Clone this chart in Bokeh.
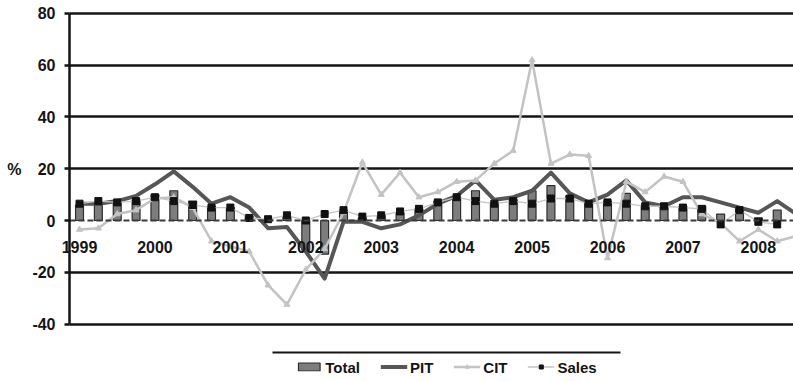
import numpy as np
from bokeh.plotting import figure
from bokeh.models import (Range1d, FixedTicker, LinearAxis, Legend, LegendItem,
                          ColumnDataSource)
from bokeh.layouts import column
from bokeh.embed import file_html
from bokeh.resources import INLINE

# Quarterly growth rates (%), 1999Q1 onwards
years = ["1999", "2000", "2001", "2002", "2003", "2004", "2005", "2006", "2007", "2008"]

total = [6, 6, 7, 8, 10, 11.5, 7.5, 5.5, 5, 1.5,
         0.5, 1.5, -11.5, -13, 4, 1, 2, 3, 4.5, 7.5,
         9, 11.5, 7, 8, 11.5, 13.5, 9.5, 7.5, 7.5, 10.5,
         6, 6.5, 5.5, 5.5, 2.5, 4.5, 1, 4]

pit = [6.5, 6.5, 7.5, 9.5, 14, 19, 13, 6.5, 9, 5,
       -3, -2.5, -12, -22.5, -0.5, -0.5, -3, -1.5, 2, 6.5,
       9.5, 15.5, 8, 9, 11.5, 18.5, 10.5, 7, 10, 15.5,
       7, 5.5, 9, 9, 7, 5, 3, 7.5, 2.5]

cit = [-3.5, -3, 2.5, 4, 8.5, 9, 5, -8, -10, -12,
       -25, -32.5, -19, -11, 3, 22.5, 10, 18.5, 9, 11,
       15, 15.5, 22, 27, 62, 22, 25.5, 25, -14.5, 15,
       11, 17, 15, 2.5, -1, -8, -3.5, -8, -6]

sales = [6.5, 7.5, 7, 7.5, 9, 7.5, 6, 5, 5, 1,
         0.5, 2, 0, 2.5, 4, 1.5, 2, 3.5, 4.5, 7,
         9, 7.5, 6.5, 7.5, 6.5, 8.5, 8.5, 6.5, 7, 6.5,
         5.5, 5.5, 5, 4.5, -1.5, 4, -0.5, -1.5]

y_ticks = [-40, -20, 0, 20, 40, 60, 80]

FONT = "Liberation Sans"
INK = "#151515"
BAR_FILL = "#7d7d7d"
BAR_LINE = "#2e2e2e"
PIT_COLOR = "#565656"
CIT_COLOR = "#c3c3c3"
SALES_LINE = "#c4c4c4"
SALES_MARK = "#111111"

# the plotted window starts half a quarter before the first observation;
# the frame itself reaches further out so the axis labels sit inside it
X_START = -0.53
X_END = 37.864

src_obs = ColumnDataSource(dict(q=np.arange(len(total)), total=total, sales=sales))
src_all = ColumnDataSource(dict(q=np.arange(len(pit)), pit=pit, cit=cit))


def draw_series(fig):
    """Draw the four series on a figure; returns the renderers for the legend."""
    r_total = fig.vbar(x="q", top="total", bottom=0, width=0.42, source=src_obs,
                       fill_color=BAR_FILL, line_color=BAR_LINE, line_width=1.2)
    r_pit = fig.line("q", "pit", source=src_all, line_color=PIT_COLOR,
                     line_width=4, line_join="round")
    r_cit_l = fig.line("q", "cit", source=src_all, line_color=CIT_COLOR, line_width=2.5)
    r_cit_m = fig.scatter("q", "cit", source=src_all, marker="triangle", size=6,
                          fill_color=CIT_COLOR, line_color=CIT_COLOR)
    r_sal_l = fig.line("q", "sales", source=src_obs, line_color=SALES_LINE, line_width=1.3)
    r_sal_m = fig.scatter("q", "sales", source=src_obs, marker="square", size=7,
                          fill_color=SALES_MARK, line_color=SALES_MARK)
    return [("Total", [r_total]), ("PIT", [r_pit]),
            ("CIT", [r_cit_l, r_cit_m]), ("Sales", [r_sal_l, r_sal_m])]


def bare(axis):
    axis.major_tick_in = 0
    axis.major_tick_out = 0
    axis.minor_tick_in = 0
    axis.minor_tick_out = 0
    return axis


p = figure(width=793, height=335,
           x_range=Range1d(-4.19, X_END), y_range=Range1d(-44.44, 85.02),
           output_backend="svg", toolbar_location=None,
           x_axis_location=None, y_axis_location=None,
           min_border_left=0, min_border_right=0,
           min_border_top=0, min_border_bottom=0)
p.frame_align = False
p.outline_line_color = None
p.xgrid.visible = False
p.ygrid.visible = False

# horizontal rules at the non-zero ticks, running from the value axis to the right
rule_ticks = [t for t in y_ticks if t != 0]
rules = bare(LinearAxis(fixed_location=X_START, ticker=FixedTicker(ticks=rule_ticks),
                        major_label_overrides={t: "" for t in rule_ticks}))
rules.level = "underlay"
rules.axis_line_color = None
rules.major_tick_in = 760
rules.major_tick_line_color = INK
rules.major_tick_line_width = 2.5
p.add_layout(rules, "left")

# value axis
ya = bare(LinearAxis(fixed_location=X_START, ticker=FixedTicker(ticks=y_ticks),
                     bounds=(y_ticks[0], y_ticks[-1])))
ya.major_label_overrides = {t: str(t) for t in y_ticks}
ya.axis_line_color = INK
ya.axis_line_width = 2.5
ya.major_tick_out = 5
ya.major_tick_line_color = INK
ya.major_tick_line_width = 2.5
ya.major_label_standoff = 9
ya.major_label_text_font = FONT
ya.major_label_text_font_size = "16px"
ya.major_label_text_font_style = "bold"
ya.major_label_text_color = INK
ya.axis_label = "%"
ya.axis_label_orientation = "horizontal"
ya.axis_label_standoff = 8
ya.axis_label_text_font = FONT
ya.axis_label_text_font_size = "16px"
ya.axis_label_text_font_style = "bold"
ya.axis_label_text_color = INK
p.add_layout(ya, "left")

draw_series(p)

# year axis along the zero line, labelled at each first quarter
xa = bare(LinearAxis(fixed_location=0, bounds=(X_START, X_END + 2),
                     ticker=FixedTicker(ticks=[4 * i for i in range(len(years))]),
                     major_label_overrides={4 * i: y for i, y in enumerate(years)}))
xa.axis_line_color = "#3a3a3a"
xa.axis_line_width = 2
xa.axis_line_dash = "6 3"
xa.major_label_standoff = 20
xa.major_label_text_font = FONT
xa.major_label_text_font_size = "16px"
xa.major_label_text_font_style = "bold"
xa.major_label_text_color = INK
p.add_layout(xa, "below")

# legend strip with a rule above it; its view window holds no data
lg = figure(width=793, height=46, x_range=Range1d(X_START, X_END), y_range=Range1d(500, 501),
            output_backend="svg", toolbar_location=None,
            x_axis_location=None, y_axis_location=None,
            min_border_left=272, min_border_right=173,
            min_border_top=17, min_border_bottom=0)
lg.frame_align = False
lg.outline_line_color = None
lg.xgrid.visible = False
lg.ygrid.visible = False
top_rule = bare(LinearAxis(ticker=FixedTicker(ticks=[])))
top_rule.axis_line_color = INK
top_rule.axis_line_width = 2
top_rule.major_label_standoff = 0
lg.add_layout(top_rule, "above")

entries = draw_series(lg)
legend = Legend(items=[LegendItem(label=name, renderers=rs) for name, rs in entries],
                orientation="horizontal", location="center")
legend.border_line_color = None
legend.background_fill_alpha = 0
legend.margin = 0
legend.padding = 0
legend.spacing = 20
legend.label_standoff = 3
legend.glyph_width = 27
legend.glyph_height = 10
legend.label_height = 15
legend.label_text_font = FONT
legend.label_text_font_size = "15px"
legend.label_text_font_style = "bold"
legend.label_text_color = INK
lg.add_layout(legend, "center")

layout = column(p, lg, spacing=0)

with open("out.html", "w") as f:
    f.write(file_html(layout, INLINE))
